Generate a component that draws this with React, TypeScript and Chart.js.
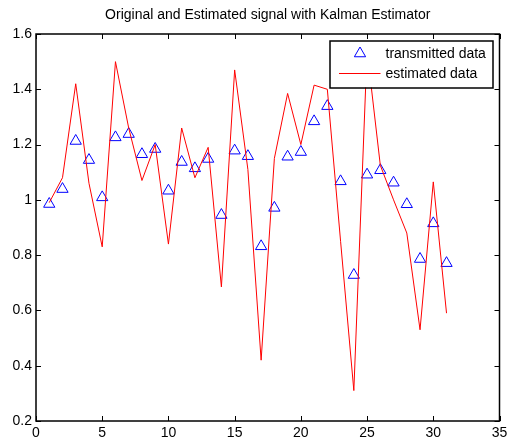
import React, { useEffect, useRef } from "react";
import { Chart, registerables } from "chart.js";

Chart.register(...registerables);

// Sample index of each transmitted symbol
const sampleIndex = [
  1, 2, 3, 4, 5, 6, 7, 8, 9, 10, 11, 12, 13, 14, 15, 16, 17, 18, 19, 20, 21,
  22, 23, 24, 25, 26, 27, 28, 29, 30, 31,
];

// Original (transmitted) signal
const transmitted = [
  0.985, 1.039, 1.213, 1.144, 1.009, 1.226, 1.238, 1.165, 1.184, 1.033, 1.137,
  1.114, 1.148, 0.945, 1.178, 1.158, 0.832, 0.971, 1.156, 1.173, 1.284, 1.339,
  1.067, 0.728, 1.091, 1.107, 1.062, 0.984, 0.786, 0.915, 0.771,
];

// Kalman estimator output
const estimated = [
  0.99, 1.08, 1.42, 1.06, 0.83, 1.5, 1.26, 1.07, 1.2, 0.84, 1.26, 1.08, 1.19,
  0.685, 1.47, 1.11, 0.42, 1.15, 1.385, 1.2, 1.415, 1.4, 0.85, 0.31, 1.54,
  1.125, 1.0, 0.88, 0.53, 1.065, 0.59,
];

const xTicks = [0, 5, 10, 15, 20, 25, 30, 35];
const yTicks = [0.2, 0.4, 0.6, 0.8, 1, 1.2, 1.4, 1.6];

const titleText = "Original and Estimated signal with Kalman Estimator";
const legendLabels = ["transmitted data", "estimated data"];

const FONT = '"Liberation Sans", Arial, Helvetica, sans-serif';
const BLUE = "#0000ff";
const RED = "#ff0000";

// Title, axes box with inward tick marks, and the boxed legend
const decorations = {
  id: "decorations",
  afterDatasetsDraw(chart: any) {
    const { ctx, chartArea } = chart;
    const { left, right, top, bottom } = chartArea;
    const xs = chart.scales.x;
    const ys = chart.scales.y;
    ctx.save();

    // title
    ctx.fillStyle = "#000";
    ctx.font = `14px ${FONT}`;
    ctx.textAlign = "center";
    ctx.textBaseline = "middle";
    ctx.fillText(titleText, (left + right) / 2, 15);

    // axes box
    ctx.strokeStyle = "#000";
    ctx.lineWidth = 1.5;
    ctx.strokeRect(left, top, right - left, bottom - top);

    // inward ticks on all four sides
    const tl = 5;
    ctx.lineWidth = 1;
    ctx.beginPath();
    xTicks.forEach((v) => {
      const px = Math.round(xs.getPixelForValue(v)) + 0.5;
      ctx.moveTo(px, bottom);
      ctx.lineTo(px, bottom - tl);
      ctx.moveTo(px, top);
      ctx.lineTo(px, top + tl);
    });
    yTicks.forEach((v) => {
      const py = Math.round(ys.getPixelForValue(v)) + 0.5;
      ctx.moveTo(left, py);
      ctx.lineTo(left + tl, py);
      ctx.moveTo(right, py);
      ctx.lineTo(right - tl, py);
    });
    ctx.stroke();

    // legend
    const bw = 163;
    const bh = 46.5;
    const bx = right - 7 - bw;
    const by = top + 7;
    ctx.fillStyle = "#fff";
    ctx.fillRect(bx, by, bw, bh);
    ctx.strokeStyle = "#000";
    ctx.lineWidth = 1.5;
    ctx.strokeRect(Math.round(bx), Math.round(by), Math.round(bw), Math.round(bh));

    // marker sample
    ctx.lineWidth = 1;
    const mx = bx + 30.5;
    const my = by + 12.5;
    const r = 6.5;
    ctx.strokeStyle = BLUE;
    ctx.beginPath();
    ctx.moveTo(mx, my - r);
    ctx.lineTo(mx + r * Math.sin((2 * Math.PI) / 3), my - r * Math.cos((2 * Math.PI) / 3));
    ctx.lineTo(mx + r * Math.sin((4 * Math.PI) / 3), my - r * Math.cos((4 * Math.PI) / 3));
    ctx.closePath();
    ctx.stroke();

    // line sample
    ctx.strokeStyle = RED;
    ctx.beginPath();
    ctx.moveTo(bx + 9.5, by + 32.5);
    ctx.lineTo(bx + 51, by + 32.5);
    ctx.stroke();

    ctx.fillStyle = "#000";
    ctx.textAlign = "left";
    ctx.textBaseline = "middle";
    ctx.fillText(legendLabels[0], bx + 56, by + 13.5);
    ctx.fillText(legendLabels[1], bx + 56, by + 33.5);

    ctx.restore();
  },
};

export default function App() {
  const canvasRef = useRef<HTMLCanvasElement | null>(null);

  useEffect(() => {
    document.body.style.margin = "0";
    const canvas = canvasRef.current;
    if (!canvas) return;

    Chart.defaults.font.family = FONT;
    Chart.defaults.font.size = 14;
    Chart.defaults.color = "#000";

    const chart = new Chart(canvas, {
      type: "scatter",
      data: {
        datasets: [
          {
            label: legendLabels[1],
            data: sampleIndex.map((x, i) => ({ x, y: estimated[i] })),
            showLine: true,
            borderColor: RED,
            borderWidth: 1,
            pointRadius: 0,
            tension: 0,
            order: 0,
          },
          {
            label: legendLabels[0],
            data: sampleIndex.map((x, i) => ({ x, y: transmitted[i] })),
            showLine: false,
            pointStyle: "triangle",
            pointRadius: 6.5,
            borderColor: BLUE,
            backgroundColor: "rgba(0,0,0,0)",
            borderWidth: 1,
            order: 1,
          },
        ],
      },
      options: {
        responsive: false,
        animation: false,
        devicePixelRatio: 1,
        layout: { padding: { left: 0, right: 6, top: 34, bottom: 0 } },
        plugins: {
          legend: { display: false },
          title: { display: false },
          tooltip: { enabled: false },
        },
        scales: {
          x: {
            type: "linear",
            min: 0,
            max: 35,
            grid: { display: false, drawTicks: false },
            border: { display: false },
            ticks: {
              stepSize: 5,
              padding: 4,
              maxRotation: 0,
              color: "#000",
              font: { size: 14, family: FONT },
            },
            afterFit(scale: any) {
              scale.height = 25;
              scale.paddingLeft = 0;
              scale.paddingRight = 0;
            },
          },
          y: {
            type: "linear",
            min: 0.2,
            max: 1.6,
            grid: { display: false, drawTicks: false },
            border: { display: false },
            ticks: {
              stepSize: 0.2,
              padding: 4,
              color: "#000",
              font: { size: 14, family: FONT },
              callback: (v: any) => String(Number(Number(v).toFixed(1))),
            },
            afterFit(scale: any) {
              scale.width = 36;
              scale.paddingTop = 0;
              scale.paddingBottom = 0;
            },
          },
        },
      },
      plugins: [decorations],
    });

    return () => chart.destroy();
  }, []);

  return (
    <div style={{ position: "fixed", left: 0, top: 0, width: 507, height: 446, background: "#fff" }}>
      <canvas ref={canvasRef} width={507} height={446} />
    </div>
  );
}
